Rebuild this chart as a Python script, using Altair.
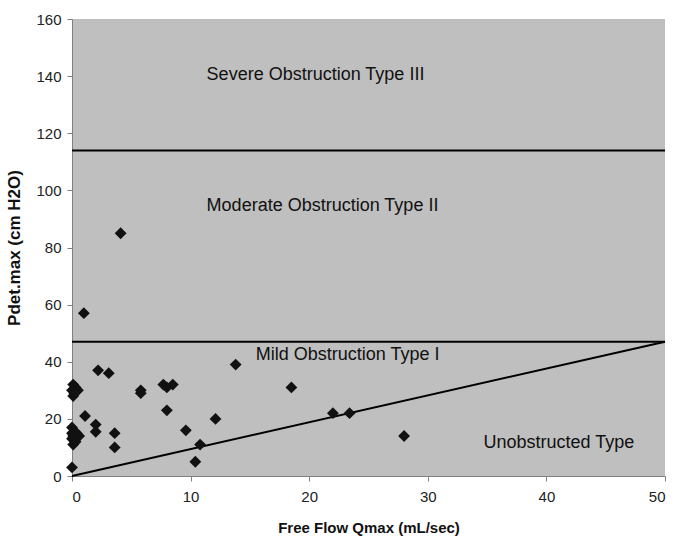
import altair as alt
import pandas as pd

qmax = [0, 0.1, 0, 0.3, 0.1, 0.5, 0.2, 0, 0.4, 0.1, 0.6, 0, 0.3, 0.1, 1.1, 2.2, 3.1, 2.0, 2.0, 3.6, 3.6,
        5.8, 5.8, 7.7, 8.0, 8.5, 8.0, 9.6, 10.4, 10.8, 12.1, 13.8, 18.5, 22.0, 23.4, 28.0, 4.1, 1.0, 0]
pdet = [3, 32, 30, 31, 28, 30, 29, 17, 15, 14, 14, 13, 12, 11, 21, 37, 36, 18, 15.5, 15, 10,
        30, 29, 32, 31, 32, 23, 16, 5, 11, 20, 39, 31, 22, 22, 14, 85, 57, 15]

zone_labels = ["Severe Obstruction Type III", "Moderate Obstruction Type II",
               "Mild Obstruction Type I", "Unobstructed Type"]
zone_x = [11.35, 11.35, 15.5, 34.7]
zone_y = [140.5, 94.5, 42.4, 11.5]

hline_y = [114, 47]
diag_x = [0, 50]
diag_y = [0, 47]

pts = pd.DataFrame({"q": qmax, "p": pdet})
txt = pd.DataFrame({"label": zone_labels, "x": zone_x, "y": zone_y})
hl = pd.DataFrame({"y": hline_y})
dg = pd.DataFrame({"x": diag_x, "y": diag_y})

font = "Liberation Sans"
xs = alt.Scale(domain=[0, 50], nice=False, zero=False)
ys = alt.Scale(domain=[0, 160], nice=False, zero=False)

xax = alt.Axis(title="Free Flow Qmax (mL/sec)", values=[0, 10, 20, 30, 40, 50], grid=False,
               domainColor="#808080", tickColor="#808080", tickSize=5, labelFontSize=15,
               labelColor="#222222", labelFont=font, titleFont=font, titleFontSize=15,
               titleFontWeight="bold", titleColor="#111111", labelPadding=8, titlePadding=16)
yax = alt.Axis(title="Pdet.max (cm H2O)", values=list(range(0, 161, 20)), grid=False,
               domainColor="#808080", tickColor="#808080", tickSize=5, labelFontSize=15,
               labelColor="#222222", labelFont=font, titleFont=font, titleFontSize=17,
               titleFontWeight="bold", titleColor="#111111", labelPadding=6, titlePadding=12)

base_pts = alt.Chart(pts).mark_point(shape="diamond", filled=True, color="#111111", size=140, opacity=1).encode(
    x=alt.X("q:Q", scale=xs, axis=xax),
    y=alt.Y("p:Q", scale=ys, axis=yax),
)

hrules = alt.Chart(hl).mark_rule(color="#000000", strokeWidth=2).encode(
    y=alt.Y("y:Q", scale=ys)
)

diag = alt.Chart(dg).mark_line(color="#000000", strokeWidth=2).encode(
    x=alt.X("x:Q", scale=xs),
    y=alt.Y("y:Q", scale=ys),
)

labels = alt.Chart(txt).mark_text(align="left", baseline="middle", fontSize=18, font=font,
                                  color="#111111").encode(
    x=alt.X("x:Q", scale=xs),
    y=alt.Y("y:Q", scale=ys),
    text="label:N",
)

chart = alt.layer(hrules, diag, base_pts, labels).properties(
    width=593, height=457,
    padding={"left": 72, "top": 19, "right": 10, "bottom": 70},
    autosize=alt.AutoSizeParams(type="none"),
    background="white",
).configure_view(fill="#bfbfbf", stroke=None)

chart.save("out.html", embed_options={"renderer": "svg", "actions": False})
